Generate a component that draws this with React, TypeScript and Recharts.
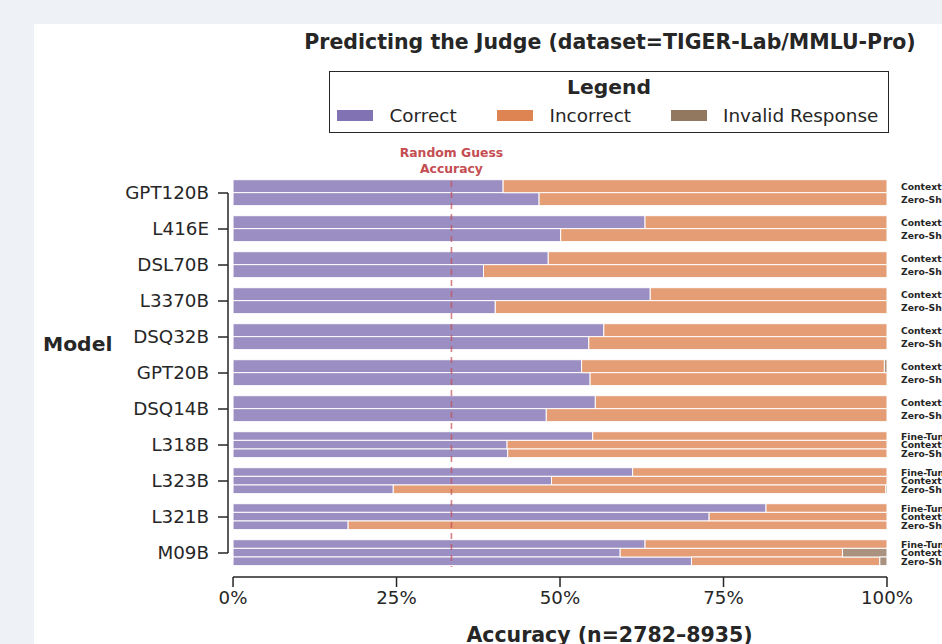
import React from "react";
import { BarChart, Bar, XAxis, YAxis, ReferenceLine, LabelList, Legend } from "recharts";

const models = ["GPT120B", "L416E", "DSL70B", "L3370B", "DSQ32B", "GPT20B", "DSQ14B", "L318B", "L323B", "L321B", "M09B"];
const conditions = ["Fine-Tuned", "Context", "Zero-Shot"];

// null = model not evaluated in that condition
const fineTunedCorrect = [null, null, null, null, null, null, null, 55.0, 61.1, 81.5, 63.0];
const fineTunedIncorrect = [null, null, null, null, null, null, null, 45.0, 38.9, 18.5, 37.0];
const fineTunedInvalid = [null, null, null, null, null, null, null, 0, 0, 0, 0];

const contextCorrect = [41.3, 63.0, 48.2, 63.8, 56.7, 53.3, 55.4, 41.9, 48.7, 72.8, 59.2];
const contextIncorrect = [58.7, 37.0, 51.8, 36.2, 43.3, 46.3, 44.6, 58.1, 51.3, 27.2, 34.0];
const contextInvalid = [0, 0, 0, 0, 0, 0.4, 0, 0, 0, 0, 6.8];

const zeroShotCorrect = [46.8, 50.1, 38.3, 40.1, 54.4, 54.6, 47.9, 42.0, 24.5, 17.6, 70.1];
const zeroShotIncorrect = [53.2, 49.9, 61.7, 59.9, 45.6, 45.4, 52.1, 58.0, 75.3, 82.4, 28.8];
const zeroShotInvalid = [0, 0, 0, 0, 0, 0, 0, 0, 0.2, 0, 1.1];

const xTicks = [0, 25, 50, 75, 100];
const randomGuess = 33.4;

const FONT = '"DejaVu Sans", sans-serif';
const INK = "#262626";
const GROUP = 0.72; // share of a model slot filled by its bars
const GROUP_PX = 26;
const Y_MIN = -1 / 3;
const Y_MAX = 32 / 3;
const X_MIN = -0.77;

const series = [
  [fineTunedCorrect, fineTunedIncorrect, fineTunedInvalid],
  [contextCorrect, contextIncorrect, contextInvalid],
  [zeroShotCorrect, zeroShotIncorrect, zeroShotInvalid],
];

const rows = models.flatMap((model, i) => {
  const present = conditions
    .map((cond, c) => ({ cond, correct: series[c][0][i], incorrect: series[c][1][i], invalid: series[c][2][i] }))
    .filter((r) => r.correct != null);
  const n = present.length;
  return present.map((r, k) => ({
    model,
    n,
    pos: i - GROUP / 2 + ((k + 0.5) * GROUP) / n,
    ...r,
  }));
});

const BarShape = (props: any) => {
  const { x, y, width, height, fill, payload } = props;
  const h = GROUP_PX / payload.n;
  const cy = y + (Number.isFinite(height) ? height : 0) / 2;
  if (!(width > 0)) return null;
  return (
    <rect x={x} y={cy - h / 2} width={width} height={h} fill={fill} fillOpacity={0.8} stroke="#fff" strokeWidth={1} />
  );
};

const CondLabel = (props: any) => {
  const vb = props.viewBox ?? props;
  return (
    <text
      x={vb.x + vb.width + 14}
      y={vb.y + vb.height / 2}
      dominantBaseline="central"
      fontSize={9.2}
      fontWeight="bold"
      fill={INK}
    >
      {props.value}
    </text>
  );
};

const GuessLabel = (props: any) => {
  const { x, y } = props.viewBox;
  return (
    <g fill="#c44e52" fontSize={12.4} fontWeight="bold" textAnchor="middle">
      <text x={x} y={y - 24.3}>Random Guess</text>
      <text x={x} y={y - 8.3}>Accuracy</text>
    </g>
  );
};

const LegendBox = ({ payload }: any) => {
  const lefts = [7, 167, 340.5];
  return (
    <div style={{ position: "relative", width: 560, height: 62, border: `1.5px solid ${INK}`, boxSizing: "border-box", background: "#fff", fontFamily: FONT, color: INK }}>
      <div style={{ position: "absolute", left: 0, right: 0, top: 5.2, textAlign: "center", fontWeight: "bold", fontSize: 20.3, lineHeight: 1 }}>
        Legend
      </div>
      {(payload || []).map((p: any, i: number) => (
        <div key={p.value} style={{ position: "absolute", left: lefts[i], top: 35.1, display: "flex", whiteSpace: "nowrap", fontSize: 18.4, lineHeight: 1 }}>
          <span style={{ display: "inline-block", width: 36, height: 11, marginTop: 3.1, marginRight: 16.5, background: p.color }} />
          <span>{p.value}</span>
        </div>
      ))}
    </div>
  );
};

export default function App() {
  return (
    <div style={{ position: "absolute", left: 0, top: 0, width: 942, height: 644, overflow: "hidden", background: "#eef1f5", fontFamily: FONT }}>
      <div style={{ position: "absolute", left: 34, top: 24, width: 908, height: 620, background: "#fff" }} />
      <div style={{ position: "absolute", left: 210, width: 800, top: 32.2, textAlign: "center", whiteSpace: "nowrap", fontWeight: "bold", fontSize: 20.5, lineHeight: 1, color: INK }}>
        Predicting the Judge (dataset=TIGER-Lab/MMLU-Pro)
      </div>
      <BarChart
        width={942}
        height={644}
        data={rows}
        layout="vertical"
        margin={{ top: 181, right: 55, bottom: 0, left: 43 }}
        style={{ position: "absolute", left: 0, top: 0 }}
      >
        <XAxis
          type="number"
          domain={[X_MIN, 100]}
          ticks={xTicks}
          interval={0}
          tickFormatter={(v: number) => `${v}%`}
          height={67}
          axisLine={false}
          tickSize={10}
          tickMargin={4}
          tick={{ fontSize: 18.2, fill: INK }}
          tickLine={{ stroke: INK, strokeWidth: 1.5 }}
          label={{ value: "Accuracy (n=2782–8935)", position: "insideBottom", offset: 2, dx: 52, fontSize: 20.5, fontWeight: "bold", fill: INK }}
        />
        <YAxis
          type="number"
          dataKey="pos"
          domain={[Y_MIN, Y_MAX]}
          ticks={models.map((_, i) => i)}
          interval={0}
          tickFormatter={(i: number) => models[i] ?? ""}
          width={185}
          axisLine={false}
          tickSize={10}
          tickMargin={9}
          tick={{ fontSize: 18.3, fill: INK }}
          tickLine={{ stroke: INK, strokeWidth: 1.5 }}
          label={{ value: "Model", position: "insideLeft", offset: 0, dy: -35, fontSize: 20.3, fontWeight: "bold", fill: INK }}
        />
        <Legend
          layout="horizontal"
          verticalAlign="middle"
          align="center"
          content={<LegendBox />}
          wrapperStyle={{ position: "absolute", left: 329, top: 71, width: 560, height: 62 }}
        />
        <Bar dataKey="correct" name="Correct" stackId="s" fill="#8172b3" barSize={8} shape={BarShape} isAnimationActive={false} />
        <Bar dataKey="incorrect" name="Incorrect" stackId="s" fill="#dd8452" barSize={8} shape={BarShape} isAnimationActive={false} />
        <Bar dataKey="invalid" name="Invalid Response" stackId="s" fill="#937860" barSize={8} shape={BarShape} isAnimationActive={false}>
          <LabelList dataKey="cond" content={CondLabel} />
        </Bar>
        <ReferenceLine
          segment={[{ x: X_MIN, y: 0 }, { x: X_MIN, y: models.length - 1 }]}
          stroke={INK}
          strokeWidth={1.5}
          ifOverflow="visible"
        />
        <ReferenceLine
          segment={[{ x: 0, y: Y_MAX }, { x: 100, y: Y_MAX }]}
          stroke={INK}
          strokeWidth={1.5}
          ifOverflow="visible"
        />
        <ReferenceLine
          segment={[{ x: randomGuess, y: Y_MIN }, { x: randomGuess, y: 10.39 }]}
          stroke="#c44e52"
          strokeOpacity={0.7}
          strokeWidth={1.6}
          strokeDasharray="6 5"
          ifOverflow="visible"
          label={GuessLabel}
        />
      </BarChart>
    </div>
  );
}
